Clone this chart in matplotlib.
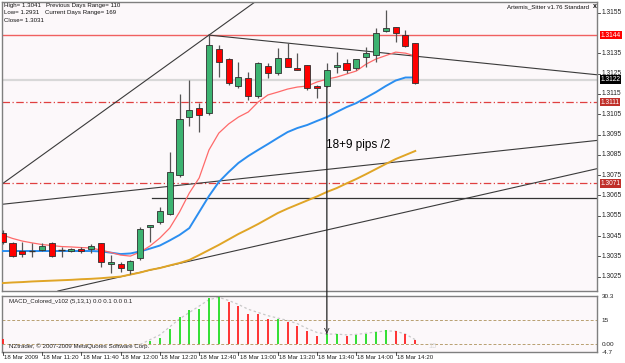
import matplotlib
matplotlib.use("Agg")
import matplotlib.pyplot as plt
import numpy as np
from matplotlib.patches import ConnectionPatch

# ---------------- data ----------------
# 5-minute candles, 18 Mar 2009 11:00 .. 14:30
opens  = [1.30463,1.30414,1.30378,1.30376,1.30381,1.30414,1.30378,1.30378,1.30385,1.30386,
          1.30414,1.30312,1.30312,1.30283,1.30343,1.30493,1.30517,1.30558,1.30750,1.31038,
          1.31079,1.31054,1.31370,1.31320,1.31189,1.31227,1.31140,1.31289,1.31251,1.31328,
          1.31279,1.31292,1.31189,1.31189,1.31281,1.31301,1.31276,1.31330,1.31342,1.31461,
          1.31481,1.31440,1.31402]
highs  = [1.30480,1.30422,1.30422,1.30417,1.30414,1.30422,1.30394,1.30391,1.30397,1.30409,
          1.30414,1.30356,1.30320,1.30332,1.30496,1.30504,1.30594,1.30865,1.31150,1.31218,
          1.31107,1.31440,1.31391,1.31325,1.31309,1.31259,1.31309,1.31301,1.31375,1.31399,
          1.31350,1.31292,1.31194,1.31301,1.31358,1.31320,1.31320,1.31383,1.31473,1.31563,
          1.31481,1.31465,1.31402]
lows   = [1.30411,1.30345,1.30348,1.30348,1.30378,1.30345,1.30348,1.30373,1.30365,1.30365,
          1.30299,1.30266,1.30274,1.30263,1.30332,1.30422,1.30509,1.30553,1.30742,1.30992,
          1.30964,1.31046,1.31235,1.31194,1.31178,1.31120,1.31128,1.31227,1.31243,1.31284,
          1.31268,1.31169,1.31128,1.31185,1.31251,1.31251,1.31268,1.31284,1.31309,1.31456,
          1.31407,1.31383,1.31199]
closes = [1.30422,1.30353,1.30361,1.30375,1.30402,1.30353,1.30380,1.30386,1.30375,1.30402,
          1.30320,1.30323,1.30291,1.30328,1.30483,1.30504,1.30573,1.30767,1.31026,1.31071,
          1.31046,1.31391,1.31309,1.31202,1.31235,1.31140,1.31301,1.31251,1.31328,1.31284,
          1.31268,1.31178,1.31178,1.31268,1.31292,1.31268,1.31320,1.31350,1.31449,1.31473,
          1.31449,1.31388,1.31205]

ma_fast = [1.30455,1.30438,1.30425,1.30416,1.30408,1.30403,1.30398,1.30396,1.30393,1.30391,
           1.30381,1.30369,1.30356,1.30351,1.30371,1.30401,1.30440,1.30489,1.30568,1.30662,
           1.30736,1.30874,1.30957,1.31002,1.31036,1.31061,1.31110,1.31145,1.31159,1.31174,
           1.31184,1.31189,1.31209,1.31223,1.31233,1.31248,1.31263,1.31297,1.31322,1.31339,
           1.31356,1.31351,1.31337]
ma_mid  = [1.30376,1.30376,1.30376,1.30376,1.30376,1.30376,1.30376,1.30376,1.30376,1.30376,
           1.30374,1.30368,1.30361,1.30364,1.30374,1.30388,1.30403,1.30428,1.30455,1.30489,
           1.30568,1.30647,1.30716,1.30765,1.30810,1.30844,1.30874,1.30903,1.30933,1.30962,
           1.30982,1.30997,1.31017,1.31036,1.31061,1.31085,1.31105,1.31132,1.31159,1.31189,
           1.31216,1.31231,1.31231]
ma_slow = [1.30218,1.30221,1.30223,1.30226,1.30228,1.30230,1.30232,1.30234,1.30237,1.30239,
           1.30242,1.30246,1.30250,1.30260,1.30270,1.30283,1.30292,1.30305,1.30317,1.30332,
           1.30356,1.30381,1.30406,1.30433,1.30460,1.30484,1.30509,1.30536,1.30563,1.30585,
           1.30605,1.30625,1.30645,1.30667,1.30686,1.30709,1.30731,1.30755,1.30780,1.30805,
           1.30829,1.30849,1.30869]

macd_hist = [3.2,0,0,0,0,0,0,0,0,0,
             0,0,0,0,0,2.1,4.3,9.6,17.1,21.3,
             22.4,28.8,29.4,26.7,23.9,19.2,18.8,16.0,16.0,13.9,
             11.7,8.5,5.3,6.4,6.4,5.3,5.8,6.4,7.5,9.0,
             8.5,6.8,2.6]
macd_signal = [None]*14 + [0,3,6,11,16,20,24,28,29.5,27.5,25,22,20,18,16.5,15,13,10,7.5,
                           6.5,6.5,6,6.3,7,7.8,8.5,8.3,6.5,3]

time_labels = ["18 Mar 2009","18 Mar 11:20","18 Mar 11:40","18 Mar 12:00","18 Mar 12:20",
               "18 Mar 12:40","18 Mar 13:00","18 Mar 13:20","18 Mar 13:40","18 Mar 14:00",
               "18 Mar 14:20"]
time_label_idx = [0,4,8,12,16,20,24,28,32,36,40]

price_ticks = [1.3155,1.3135,1.3125,1.3115,1.3105,1.3095,1.3085,1.3075,1.3065,
               1.3055,1.3045,1.3035,1.3025]
level_prev_high = 1.3144
level_bid = 1.3122
level_a = 1.3111
level_b = 1.3071
level_h = 1.30639

# trend lines (candle index, price)
tl_up_steep = [(-0.1, 1.30705), (21.0, 1.3144)]
tl_down = [(21.0, 1.3144), (60.8, 1.31243)]
tl_low = [(6.35, 1.30187), (60.8, 1.30785)]
tl_mid = [(-0.1, 1.30606), (60.9, 1.30923)]
h_line_start = 15.2

macd_levels = [15, 0]
macd_ticks = ["30.3", "15", "0.00", "-4.7"]

# ---------------- figure ----------------
W, H = 625, 363
fig = plt.figure(figsize=(W/100, H/100), dpi=100)
fig.patch.set_facecolor("white")
BG = "#FCF8FA"
FONT = "Liberation Sans"
SMALL = 4.4

def fx(px): return px / W
def fy(py): return 1 - py / H

ax = fig.add_axes([fx(2), fy(291), fx(597) - fx(2), fy(2) - fy(291)])
ax2 = fig.add_axes([fx(2), fy(352), fx(597) - fx(2), fy(296) - fy(352)])
for a in (ax, ax2):
    a.set_facecolor(BG)
    a.set_xticks([]); a.set_yticks([])
    for s in a.spines.values():
        s.set_color("#7f7f7f"); s.set_linewidth(1.0)

xl = (-0.07, 60.5)
ax.set_xlim(*xl); ax2.set_xlim(*xl)
ax.set_ylim(1.30179, 1.31603)
ax2.set_ylim(-4.7, 30.3)

n = len(opens)
idx = np.arange(n)

# horizontal levels
ax.axhline(level_prev_high, color="#F06060", lw=1.0, zorder=1)
ax.axhline(level_bid, color="#D8D8D8", lw=1.6, zorder=1)
ax.axhline(level_a, color="#E04040", lw=0.9, ls=(0, (6, 2, 1, 2)), zorder=1)
ax.axhline(level_b, color="#E04040", lw=0.9, ls=(0, (6, 2, 1, 2)), zorder=1)
ax.plot([h_line_start, xl[1]], [level_h, level_h], color="#333333", lw=0.9, zorder=1)

# trend lines
for tl in (tl_up_steep, tl_low, tl_mid):
    ax.axline(tl[0], tl[1], color="#3a3a3a", lw=0.8, zorder=2)
(x0, y0), (x1, y1) = tl_down
ax.plot([x0, x1 + 5], [y0, y0 + (y1 - y0) * (x1 + 5 - x0) / (x1 - x0)], color="#3a3a3a", lw=0.8, zorder=2)

# moving averages
ax.plot(idx, ma_slow, color="#E0A526", lw=1.4, zorder=3)
ax.plot(idx, ma_mid, color="#2B8EF0", lw=1.4, zorder=3)
ax.plot(idx, ma_fast, color="#FF6A6A", lw=0.9, zorder=3)

# candles
for i in range(n):
    o, h, l, c = opens[i], highs[i], lows[i], closes[i]
    ax.vlines(i, l, h, color="#555555", lw=0.9, zorder=4)
    up = c >= o
    col = "#3CB371" if up else "#FF0000"
    lo, hi = min(o, c), max(o, c)
    if hi - lo < 0.00004:
        ax.hlines((o + c) / 2, i - 0.33, i + 0.33, color="#333333", lw=1.0, zorder=5)
    else:
        ax.bar(i, hi - lo, bottom=lo, width=0.62, color=col, edgecolor="#2f2f2f",
               linewidth=0.6, zorder=5)

# vertical line with V marker
con = ConnectionPatch(xyA=(33, lows[33]), coordsA="data", axesA=ax,
                      xyB=(33, 6.6), coordsB="data", axesB=ax2,
                      color="#222222", lw=0.9, zorder=10)
fig.add_artist(con)
ax2.text(33, 6.0, "V", ha="center", va="bottom", fontsize=6, color="#222222",
         family=FONT, zorder=11)

ax.text(32.9, 1.30898, "18+9 pips /2", fontsize=8.5, family=FONT, color="black",
        ha="left", va="center", zorder=10,
        bbox=dict(facecolor=BG, edgecolor="none", pad=0.5))

# MACD panel
for lv in macd_levels:
    ax2.axhline(lv, color="#B8A070", lw=0.7, ls=(0, (3, 2)), zorder=1)
for i, v in enumerate(macd_hist):
    if v == 0:
        continue
    prev = macd_hist[i - 1] if i > 0 else 0
    col = "#22DD22" if v >= prev else "#FF2222"
    if i == 0:
        col = "#FF2222"
    ax2.vlines(i, 0, v, color=col, lw=1.3, zorder=3)
sig_x = [i for i, v in enumerate(macd_signal) if v is not None]
sig_y = [v for v in macd_signal if v is not None]
ax2.plot(sig_x, sig_y, color="#C8C8C8", lw=0.9, ls=(0, (2, 2)), zorder=2)

ax2.text(0.6, 28.5, "MACD_Colored_v102 (5,13,1) 0.0 0.1 0.0 0.1", fontsize=SMALL,
         family=FONT, color="#222222", va="top", ha="left")
ax2.text(0.6, -0.8, "NZtrader, © 2007-2009 MetaQuotes Software Corp.", fontsize=SMALL,
         family=FONT, color="#222222", va="center", ha="left")
ax2.text(43.3, -1.5, "15", fontsize=5.5, family=FONT, color="#D8D8D8", va="center", ha="left")

# price axis labels
trans = ax.get_yaxis_transform()
for p in price_ticks:
    ax.text(1.008, p, f"{p:.4f}", transform=trans, fontsize=4.8, family=FONT,
            color="#222222", va="center", ha="left", clip_on=False)
    ax.plot([1.0, 1.005], [p, p], transform=trans, color="#333333", lw=0.6, clip_on=False)
for p, bg in ((level_prev_high, "#FF0000"), (level_bid, "#000000"),
              (level_a, "#C0302A"), (level_b, "#C0302A")):
    ax.text(1.006, p, f"{p:.4f}", transform=trans, fontsize=4.8, family=FONT,
            color="white", va="center", ha="left", clip_on=False, zorder=20,
            bbox=dict(facecolor=bg, edgecolor="none", pad=0.6))

# MACD axis labels
t2 = ax2.get_yaxis_transform()
for txt, v in zip(macd_ticks, [30.3, 15, 0.0, -4.7]):
    ax2.text(1.008, v, txt, transform=t2, fontsize=4.6, family=FONT, color="#222222",
             va="center", ha="left", clip_on=False)

# time labels
for lab, i in zip(time_labels, time_label_idx):
    xf = fx(2.7 + 9.82 * i)
    fig.text(xf + 0.002, fy(357.5), lab, fontsize=SMALL, family=FONT, color="#222222",
             va="center", ha="left")
    fig.add_artist(plt.Line2D([xf, xf], [fy(352), fy(355)], color="#333333", lw=0.6))

# header texts
fig.text(fx(4), fy(5), "High= 1.3041", fontsize=SMALL, family=FONT, va="center", color="#111111")
fig.text(fx(46), fy(5), "Previous Days Range= 110", fontsize=SMALL, family=FONT, va="center", color="#111111")
fig.text(fx(4), fy(12.7), "Low= 1.2931", fontsize=SMALL, family=FONT, va="center", color="#111111")
fig.text(fx(45), fy(12.7), "Current Days Range= 169", fontsize=SMALL, family=FONT, va="center", color="#111111")
fig.text(fx(4), fy(20), "Close= 1.3031", fontsize=SMALL, family=FONT, va="center", color="#111111")
fig.text(fx(589), fy(7), "Artemis_Sitter v1.76 Standard", fontsize=SMALL, family=FONT,
         va="center", ha="right", color="#111111")
fig.text(fx(593), fy(7), "x", fontsize=5, family=FONT, va="center", ha="left",
         color="#111111", weight="bold")

fig.savefig("out.png", dpi=100, facecolor="white")
